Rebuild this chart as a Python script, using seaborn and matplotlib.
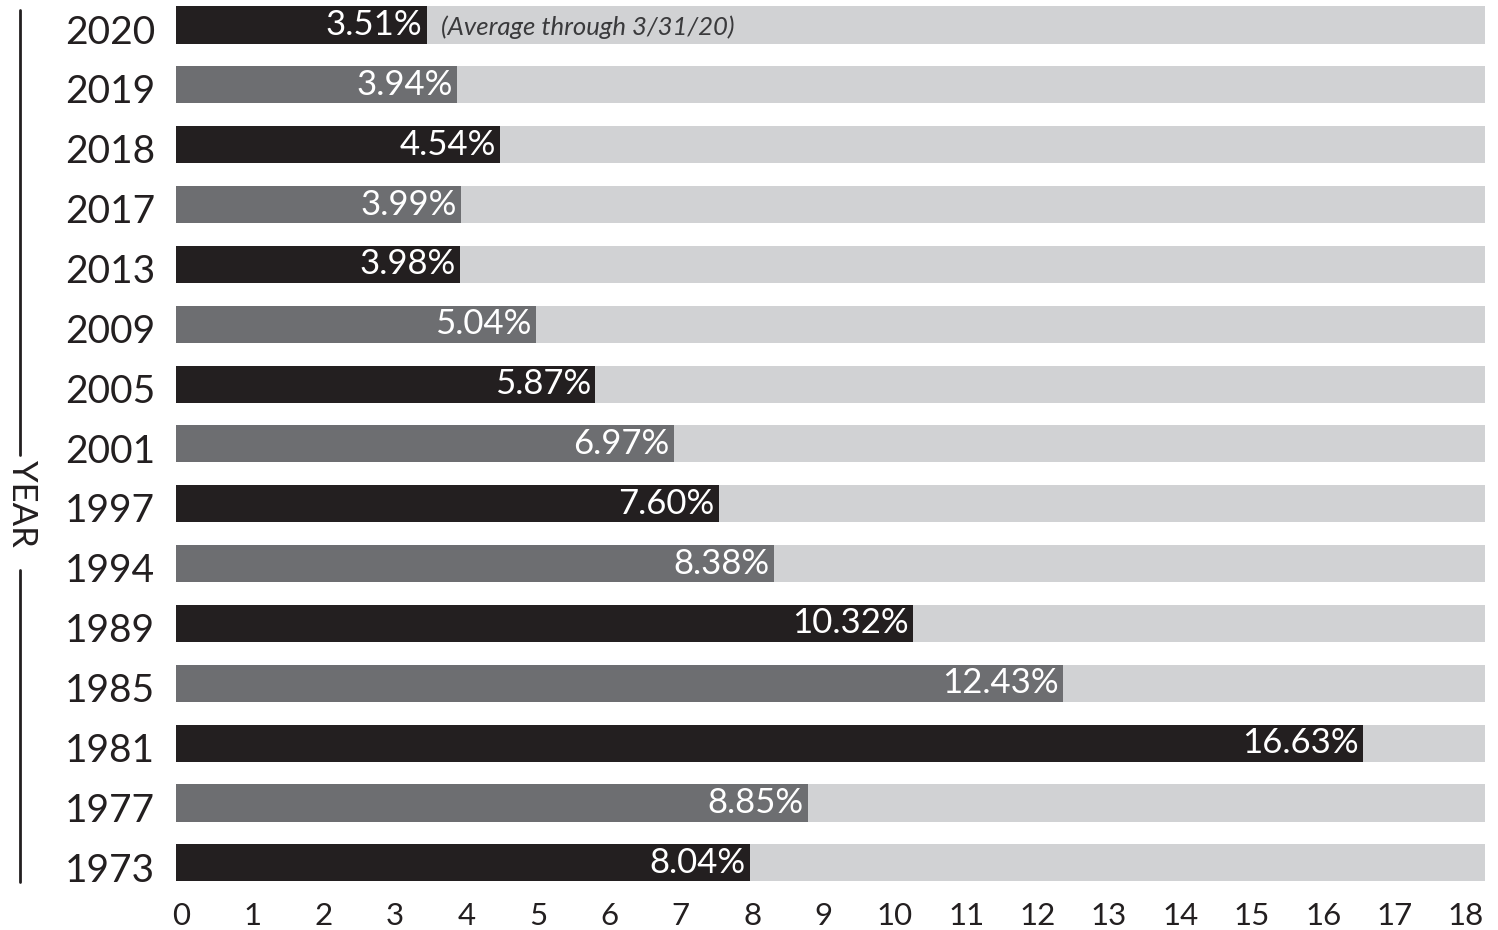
import matplotlib
matplotlib.use("Agg")
import matplotlib.pyplot as plt
from matplotlib.lines import Line2D
from matplotlib.transforms import ScaledTranslation
import seaborn as sns
import pandas as pd

years = ["2020", "2019", "2018", "2017", "2013", "2009", "2005", "2001",
         "1997", "1994", "1989", "1985", "1981", "1977", "1973"]
rates = [3.51, 3.94, 4.54, 3.99, 3.98, 5.04, 5.87, 6.97,
         7.60, 8.38, 10.32, 12.43, 16.63, 8.85, 8.04]
x_ticks = list(range(0, 19))
note = "(Average through 3/31/20)"

dark = "#231f20"
mid = "#6d6e71"
light = "#d1d2d4"

sns.set_theme(style="white")
plt.rcParams["font.family"] = ["Lato", "DejaVu Sans"]

df = pd.DataFrame({"year": years, "rate": rates})
df["full"] = 18.33
palette = {y: (dark if i % 2 == 0 else mid) for i, y in enumerate(years)}

fig = plt.figure(figsize=(14.98, 9.30), dpi=100)
ax = fig.add_axes([0.1175, 0.0484, 0.991 - 0.1175, 0.9505])

# grey track behind each bar
sns.barplot(data=df, x="full", y="year", order=years, color=light,
            width=0.62, saturation=1, linewidth=0, ax=ax)
sns.barplot(data=df, x="rate", y="year", order=years, hue="year",
            palette=palette, legend=False, width=0.62, saturation=1,
            linewidth=0, ax=ax)

for i, v in enumerate(rates):
    ax.text(v - 0.06, i + 0.0, f"{v:.2f}%", ha="right", va="center",
            color="white", fontsize=25)

ax.text(rates[0] + 0.2, 0.04, note, ha="left", va="center",
        color="#3a3a3c", fontsize=18.5, style="italic")

ax.set_xlim(0, 18.33)
ax.set_ylim(14.37, -0.40)
ax.set_xticks(x_ticks)
ax.set_xticklabels([str(t) for t in x_ticks], fontsize=22.5, color=dark)
ax.tick_params(axis="x", length=0, pad=12)
ax.tick_params(axis="y", length=0, pad=15, labelsize=28, labelcolor=dark)
for lab in ax.get_xticklabels():
    lab.set_transform(lab.get_transform() +
                      ScaledTranslation(5 / 100, 0, fig.dpi_scale_trans))
for lab in ax.get_yticklabels():
    lab.set_transform(lab.get_transform() +
                      ScaledTranslation(0, -3 / 72, fig.dpi_scale_trans))
ax.set_xlabel("")
ax.set_ylabel("")
for s in ax.spines.values():
    s.set_visible(False)

# YEAR label with rules above and below
fig.text(22 / 1498, 1 - 503 / 930, "YEAR", rotation=270, ha="center",
         va="center", fontsize=25, color=dark)
fig.add_artist(Line2D([20 / 1498, 20 / 1498], [1 - 10 / 930, 1 - 455 / 930],
                      color=dark, lw=2))
fig.add_artist(Line2D([20 / 1498, 20 / 1498], [1 - 570 / 930, 1 - 882 / 930],
                      color=dark, lw=2))

fig.savefig("out.png", dpi=100)
